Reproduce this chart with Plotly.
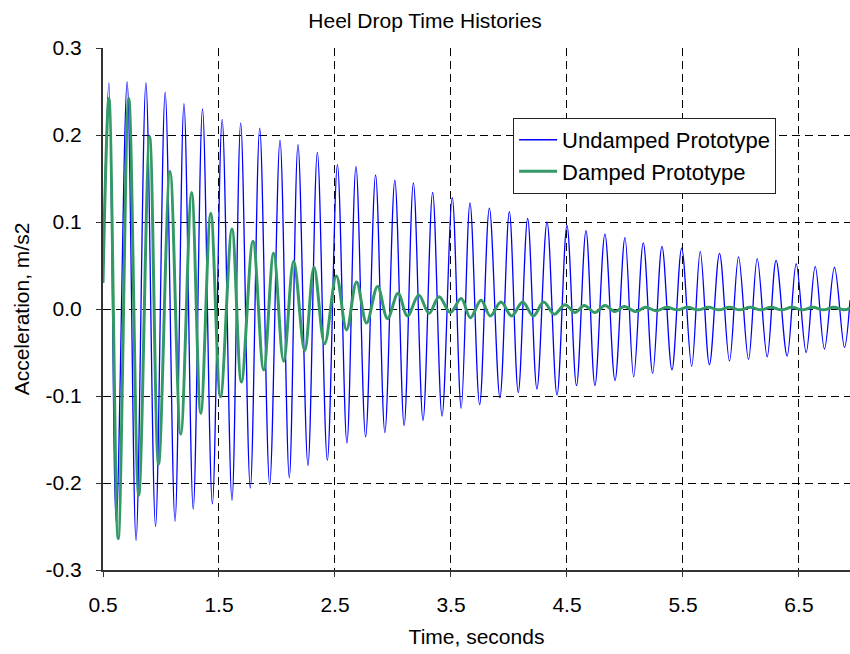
import plotly.graph_objects as go

# Undamped prototype: extrema (time s, acceleration m/s2)
undamped_t = [0.500, 0.551, 0.614, 0.708, 0.785, 0.870, 0.953, 1.036, 1.121, 1.198, 1.278,
              1.358, 1.443, 1.527, 1.612, 1.687, 1.770, 1.851, 1.937, 2.026, 2.106,
              2.181, 2.267, 2.348, 2.434, 2.521, 2.603, 2.681, 2.764, 2.850, 2.930,
              3.016, 3.096, 3.176, 3.259, 3.342, 3.423, 3.511, 3.588, 3.664, 3.747,
              3.831, 3.922, 4.003, 4.080, 4.161, 4.241, 4.328, 4.414, 4.500, 4.582,
              4.664, 4.741, 4.827, 4.914, 5.000, 5.075, 5.158, 5.239, 5.319, 5.405,
              5.489, 5.575, 5.649, 5.728, 5.815, 5.901, 5.979, 6.065, 6.140, 6.226,
              6.303, 6.398, 6.476, 6.562, 6.640, 6.720, 6.806, 6.892, 6.940]
undamped_a = [0.050, 0.260, -0.245, 0.261, -0.266, 0.260, -0.250, 0.249, -0.244, 0.236, -0.230,
              0.230, -0.224, 0.218, -0.220, 0.214, -0.206, 0.208, -0.202, 0.194, -0.194,
              0.189, -0.180, 0.180, -0.174, 0.166, -0.154, 0.164, -0.147, 0.154, -0.142,
              0.148, -0.134, 0.145, -0.128, 0.134, -0.123, 0.128, -0.114, 0.122, -0.110,
              0.116, -0.102, 0.112, -0.096, 0.104, -0.092, 0.100, -0.099, 0.096, -0.088,
              0.090, -0.088, 0.086, -0.082, 0.082, -0.078, 0.076, -0.074, 0.072, -0.070,
              0.070, -0.066, 0.066, -0.064, 0.064, -0.060, 0.060, -0.058, 0.058, -0.055,
              0.056, -0.054, 0.052, -0.050, 0.049, -0.046, 0.048, -0.044, 0.010]

# Damped prototype: extrema
damped_t = [0.500, 0.551, 0.631, 0.722, 0.808, 0.902, 0.979, 1.078, 1.170, 1.264, 1.343,
            1.429, 1.513, 1.612, 1.693, 1.793, 1.885, 1.971, 2.057, 2.144, 2.239,
            2.319, 2.411, 2.512, 2.600, 2.686, 2.772, 2.867, 2.953, 3.044, 3.125,
            3.222, 3.311, 3.397, 3.494, 3.588, 3.667, 3.759, 3.839, 3.931, 4.023,
            4.118, 4.210, 4.299, 4.391, 4.483, 4.569, 4.649, 4.741, 4.828, 4.914,
            4.994, 5.094, 5.176, 5.270, 5.360, 5.450, 5.540, 5.630, 5.720, 5.810,
            5.900, 5.990, 6.080, 6.170, 6.260, 6.350, 6.440, 6.530, 6.620, 6.710,
            6.800, 6.890, 6.940]
damped_a = [0.030, 0.242, -0.264, 0.242, -0.214, 0.198, -0.178, 0.158, -0.144, 0.134, -0.120,
            0.110, -0.101, 0.092, -0.084, 0.078, -0.070, 0.064, -0.060, 0.055, -0.048,
            0.048, -0.040, 0.038, -0.024, 0.031, -0.016, 0.026, -0.011, 0.018, -0.008,
            0.016, -0.005, 0.014, -0.004, 0.012, -0.010, 0.010, -0.008, 0.008, -0.008,
            0.008, -0.008, 0.008, -0.006, 0.005, -0.004, 0.004, -0.004, 0.004, -0.003,
            0.003, -0.003, 0.002, -0.002, 0.002, -0.001, 0.002, -0.001, 0.002, -0.001,
            0.002, -0.001, 0.002, -0.001, 0.002, -0.001, 0.002, -0.001, 0.002, -0.001,
            0.002, -0.001, 0.001]

x_ticks = [0.5, 1.5, 2.5, 3.5, 4.5, 5.5, 6.5]
x_labels = ["0.5", "1.5", "2.5", "3.5", "4.5", "5.5", "6.5"]
y_ticks = [-0.3, -0.2, -0.1, 0.0, 0.1, 0.2, 0.3]
y_labels = ["-0.3", "-0.2", "-0.1", "0.0", "0.1", "0.2", "0.3"]

font = "Liberation Sans, Arial, sans-serif"

fig = go.Figure()
fig.add_trace(go.Scatter(x=undamped_t, y=undamped_a, mode="lines",
                         name="Undamped Prototype",
                         line=dict(color="#0000FF", width=1.3, shape="spline", smoothing=1.0)))
fig.add_trace(go.Scatter(x=damped_t, y=damped_a, mode="lines",
                         name="Damped Prototype",
                         line=dict(color="#339966", width=3, shape="spline", smoothing=1.0)))

fig.update_layout(
    width=850, height=654,
    margin=dict(l=103, r=0, t=48, b=84, autoexpand=False),
    paper_bgcolor="white", plot_bgcolor="white",
    title=dict(text="Heel Drop Time Histories", x=0.5, xanchor="center", y=0.969,
               yanchor="middle", font=dict(family=font, size=21, color="black")),
    showlegend=True,
    legend=dict(x=0.549, y=0.866, xanchor="left", yanchor="top",
                bgcolor="white", bordercolor="#222222", borderwidth=1,
                font=dict(family=font, size=22, color="black"),
                itemwidth=38, tracegroupgap=0),
    font=dict(family=font, color="black"),
)
fig.update_xaxes(range=[0.5, 6.94], tickvals=x_ticks, ticktext=x_labels,
                 showgrid=True, gridcolor="black", griddash="8px,5px", gridwidth=1,
                 showline=True, linecolor="#333333", linewidth=2,
                 ticks="outside", ticklen=5, tickcolor="#333333",
                 ticklabelstandoff=10,
                 tickfont=dict(family=font, size=21, color="black"),
                 title=dict(text="Time, seconds", font=dict(family=font, size=21, color="black"),
                            standoff=14),
                 automargin=False, zeroline=False)
fig.update_yaxes(range=[-0.3, 0.3], tickvals=y_ticks, ticktext=y_labels,
                 showgrid=True, gridcolor="black", griddash="8px,5px", gridwidth=1,
                 showline=True, linecolor="#333333", linewidth=2,
                 ticks="outside", ticklen=5, tickcolor="#333333",
                 ticklabelstandoff=10,
                 tickfont=dict(family=font, size=21, color="black"),
                 title=dict(text="Acceleration, m/s2", font=dict(family=font, size=21, color="black"),
                            standoff=10),
                 automargin=False, zeroline=False)

# remove the default 8px page margin so the 850x654 figure fills the window exactly
fig.write_html("out.html", config={"displayModeBar": False},
               post_script="document.body.style.margin='0';document.body.style.overflow='hidden';")
